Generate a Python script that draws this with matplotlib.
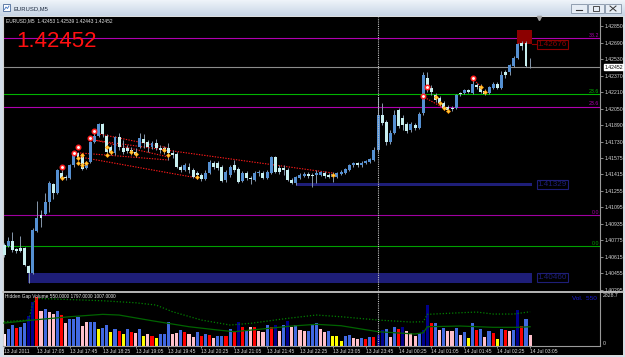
import numpy as np
import matplotlib.pyplot as plt
from matplotlib.patches import Rectangle
from matplotlib.colors import LinearSegmentedColormap

plt.rcParams['font.family'] = ['Liberation Sans', 'DejaVu Sans']

# EURUSD M5 bars, 13 Jul 2011 16:25 -> 14 Jul 2011 03:05
opens = [
    1.4073, 1.4072, 1.4077, 1.4069, 1.4070, 1.4070, 1.4053, 1.4046, 1.4087, 1.4102,
    1.4103, 1.4115, 1.4132, 1.4123, 1.4143, 1.4139, 1.4138, 1.4150, 1.4162, 1.4161,
    1.4148, 1.4153, 1.4173, 1.4179, 1.4190, 1.4179, 1.4168, 1.4162, 1.4178, 1.4167,
    1.4167, 1.4165, 1.4163, 1.4168, 1.4176, 1.4173, 1.4168, 1.4172, 1.4167, 1.4167,
    1.4167, 1.4162, 1.4161, 1.4149, 1.4146, 1.4149, 1.4146, 1.4143, 1.4141, 1.4137,
    1.4143, 1.4152, 1.4152, 1.4149, 1.4136, 1.4141, 1.4150, 1.4147, 1.4135, 1.4143,
    1.4138, 1.4136, 1.4143, 1.4143, 1.4138, 1.4143, 1.4158, 1.4148, 1.4148, 1.4146,
    1.4136, 1.4133, 1.4138, 1.4140, 1.4142, 1.4141, 1.4141, 1.4141, 1.4143, 1.4141,
    1.4139, 1.4139, 1.4142, 1.4143, 1.4146, 1.4150, 1.4152, 1.4150, 1.4152, 1.4153,
    1.4155, 1.4165, 1.4199, 1.4192, 1.4173, 1.4181, 1.4204, 1.4196, 1.4190, 1.4184,
    1.4189, 1.4186, 1.4201, 1.4235, 1.4225, 1.4218, 1.4215, 1.4210, 1.4207, 1.4206,
    1.4206, 1.4220, 1.4220, 1.4223, 1.4220, 1.4228, 1.4227, 1.4222, 1.4220, 1.4225,
    1.4229, 1.4225, 1.4240, 1.4240, 1.4246, 1.4254, 1.4269, 1.4269, 1.42453]
highs = [
    1.4075, 1.4081, 1.4086, 1.4070, 1.4082, 1.4071, 1.4054, 1.4089, 1.4116, 1.4107,
    1.4123, 1.4135, 1.4133, 1.4147, 1.4146, 1.4141, 1.4151, 1.4163, 1.4163, 1.4162,
    1.4154, 1.4174, 1.4181, 1.4191, 1.4191, 1.4180, 1.4170, 1.4179, 1.4181, 1.4175,
    1.4170, 1.4168, 1.4167, 1.4181, 1.4180, 1.4175, 1.4174, 1.4176, 1.4170, 1.4169,
    1.4172, 1.4165, 1.4163, 1.4150, 1.4152, 1.4152, 1.4148, 1.4145, 1.4143, 1.4146,
    1.4155, 1.4154, 1.4154, 1.4150, 1.4146, 1.4150, 1.4155, 1.4149, 1.4145, 1.4145,
    1.4140, 1.4145, 1.4146, 1.4145, 1.4146, 1.4159, 1.4159, 1.4150, 1.4150, 1.4148,
    1.4138, 1.4140, 1.4143, 1.4144, 1.4144, 1.4143, 1.4146, 1.4145, 1.4145, 1.4143,
    1.4144, 1.4144, 1.4146, 1.4148, 1.4151, 1.4153, 1.4153, 1.4154, 1.4155, 1.4157,
    1.4168, 1.4216, 1.4210, 1.4194, 1.4184, 1.4204, 1.4206, 1.4199, 1.4192, 1.4192,
    1.4191, 1.4202, 1.4240, 1.4240, 1.4228, 1.4220, 1.4217, 1.4212, 1.4209, 1.4208,
    1.4219, 1.4221, 1.4224, 1.4224, 1.4233, 1.4230, 1.4229, 1.4224, 1.4227, 1.4231,
    1.4231, 1.4241, 1.4242, 1.4248, 1.4256, 1.4269, 1.4270, 1.4270, 1.42539]
lows = [
    1.4061, 1.4071, 1.4066, 1.4065, 1.4066, 1.4053, 1.4036, 1.4045, 1.4086, 1.4090,
    1.4102, 1.4105, 1.4118, 1.4122, 1.4136, 1.4136, 1.4137, 1.4149, 1.4155, 1.4146,
    1.4147, 1.4152, 1.4172, 1.4178, 1.4178, 1.4161, 1.4160, 1.4160, 1.4165, 1.4161,
    1.4162, 1.4160, 1.4158, 1.4167, 1.4167, 1.4163, 1.4166, 1.4165, 1.4162, 1.4161,
    1.4155, 1.4157, 1.4148, 1.4144, 1.4145, 1.4143, 1.4138, 1.4137, 1.4135, 1.4136,
    1.4142, 1.4147, 1.4146, 1.4134, 1.4134, 1.4139, 1.4144, 1.4133, 1.4134, 1.4136,
    1.4132, 1.4135, 1.4140, 1.4137, 1.4137, 1.4142, 1.4143, 1.4142, 1.4141, 1.4135,
    1.4132, 1.4131, 1.4137, 1.4139, 1.4138, 1.4129, 1.4133, 1.4140, 1.4138, 1.4138,
    1.4134, 1.4138, 1.4141, 1.4142, 1.4145, 1.4149, 1.4149, 1.4149, 1.4151, 1.4152,
    1.4154, 1.4163, 1.4189, 1.4170, 1.4171, 1.4180, 1.4186, 1.4184, 1.4181, 1.4182,
    1.4184, 1.4185, 1.4199, 1.4221, 1.4218, 1.4211, 1.4208, 1.4204, 1.4202, 1.4203,
    1.4205, 1.4217, 1.4219, 1.4220, 1.4219, 1.4224, 1.4220, 1.4218, 1.4219, 1.4224,
    1.4224, 1.4224, 1.4235, 1.4238, 1.4245, 1.4253, 1.4262, 1.4245, 1.42443]
closes = [
    1.4063, 1.4077, 1.4068, 1.4067, 1.4067, 1.4054, 1.4046, 1.4088, 1.4099, 1.4099,
    1.4115, 1.4133, 1.4123, 1.4146, 1.4138, 1.4138, 1.4150, 1.4162, 1.4157, 1.4147,
    1.4152, 1.4173, 1.4179, 1.4190, 1.4180, 1.4163, 1.4162, 1.4178, 1.4168, 1.4163,
    1.4164, 1.4162, 1.4160, 1.4177, 1.4172, 1.4168, 1.4172, 1.4167, 1.4165, 1.4163,
    1.4162, 1.4160, 1.4149, 1.4146, 1.4150, 1.4146, 1.4139, 1.4141, 1.4137, 1.4143,
    1.4153, 1.4149, 1.4148, 1.4135, 1.4144, 1.4149, 1.4146, 1.4134, 1.4143, 1.4138,
    1.4137, 1.4143, 1.4144, 1.4138, 1.4144, 1.4158, 1.4144, 1.4144, 1.4146, 1.4136,
    1.4133, 1.4139, 1.4141, 1.4142, 1.4140, 1.4140, 1.4143, 1.4144, 1.4140, 1.4139,
    1.4142, 1.4143, 1.4144, 1.4147, 1.4150, 1.4152, 1.4150, 1.4152, 1.4154, 1.4156,
    1.4165, 1.4199, 1.4191, 1.4173, 1.4181, 1.4199, 1.4188, 1.4189, 1.4183, 1.4190,
    1.4186, 1.4200, 1.4238, 1.4223, 1.4221, 1.4213, 1.4210, 1.4206, 1.4204, 1.4205,
    1.4218, 1.4219, 1.4223, 1.4221, 1.4229, 1.4226, 1.4221, 1.4219, 1.4226, 1.4229,
    1.4225, 1.4238, 1.4238, 1.4247, 1.4254, 1.4268, 1.4266, 1.4246, 1.42452]

# Hidden Gap Volume
volumes = [
    615, 879, 1072, 949, 1001, 1177, 1581, 2320, 2550, 1845,
    1968, 1792, 1652, 1845, 1616, 1212, 1406, 1406, 1529, 1054,
    1265, 1247, 1247, 896, 949, 1072, 703, 879, 773, 615,
    861, 720, 668, 896, 510, 615, 527, 422, 597, 615,
    1230, 615, 650, 826, 720, 615, 474, 720, 510, 615,
    545, 422, 510, 527, 527, 879, 773, 1265, 1001, 843,
    1001, 984, 773, 720, 1107, 1001, 1089, 773, 1072, 1318,
    1001, 1107, 826, 791, 791, 1142, 1212, 879, 703, 773,
    510, 510, 246, 510, 562, 387, 334, 387, 351, 439,
    439, 562, 808, 861, 439, 984, 879, 1001, 756, 668,
    510, 668, 826, 2179, 1177, 1195, 826, 949, 773, 773,
    949, 562, 703, 422, 1195, 843, 896, 439, 773, 668,
    334, 879, 843, 791, 826, 1915, 1037, 1406, 550]
# b royal blue, n navy, r red, p pink, y yellow, w pale pink
vol_kind = ("wbbrbbnnrp" "bppbrpbbbp" "pbbybbybry" "brpbyprybb"
            "bppbrppbrb" "rpbbrbrnrb" "prppbrnpbn" "pbppbbbppb"
            "yyybbppbrb" "rnnbpbrnpp" "pbnnrbpbpp" "bpbybrbpbr"
            "ybrpbnrbp")
vol_colors = {'b': '#4169e1', 'n': '#00008b', 'r': '#ff0000',
              'p': '#ffc0cb', 'y': '#ffff00', 'w': '#ffe8ee'}

slow_idx = [0, 6, 7, 8, 24, 32, 37, 41, 48, 55, 60, 69, 76, 82, 91, 99,
            102, 103, 111, 115, 119, 124, 128]
slow_vals = [1270, 1360, 2240, 2503, 2377, 2271, 2150, 1797, 1360, 1096, 1186,
             1449, 1623, 1534, 1360, 1254, 1270, 1660, 1744, 1781, 1676, 1676, 1797]
fast_idx = [0, 7, 16, 24, 28, 36, 45, 52, 56, 62, 70, 76, 82, 91, 100, 102,
            103, 111, 119, 125, 128]
fast_vals = [1200, 1360, 1534, 1660, 1623, 1323, 1007, 833, 743, 870, 1043,
             1133, 1059, 743, 622, 690, 1007, 1043, 975, 975, 1007]

price_ticks = [1.42850, 1.42690, 1.42530, 1.42370, 1.42210, 1.42050, 1.41890,
               1.41730, 1.41575, 1.41415, 1.41255, 1.41095, 1.40935, 1.40775,
               1.40615, 1.40455, 1.40295]
date_idx = list(range(0, 129, 8))
date_labels = ['13 Jul 2011', '13 Jul 17:05', '13 Jul 17:45', '13 Jul 18:25',
               '13 Jul 19:05', '13 Jul 19:45', '13 Jul 20:25', '13 Jul 21:05',
               '13 Jul 21:45', '13 Jul 22:25', '13 Jul 23:05', '13 Jul 23:45',
               '14 Jul 00:25', '14 Jul 01:05', '14 Jul 01:45', '14 Jul 02:25',
               '14 Jul 03:05']

# fibonacci levels
fib_prices = [1.42731, 1.42187, 1.42069, 1.41020, 1.40717]
fib_texts = ['38.2', '23.6', '23.6', '0.0', '0.0']
fib_colors = ['#b000b0', '#00b400', '#b000b0', '#a000a0', '#00a000']

# zones (start bar, end bar, low, high)
zone_start = [5.8, 71.0, 124.9]
zone_end = [128.4, 128.4, 128.4]
zone_low = [1.40362, 1.41304, 1.42676]
zone_high = [1.40460, 1.41329, 1.42810]
zone_text = ['1.40460', '1.41329', '1.42676']
zone_colors = ['#1e1e78', '#1e1e78', '#8c0000']
zone_text_y = [1.40411, 1.41316, 1.42668]

# red dotted trend lines: (bar0, price0, bar1, price1)
trend_lines = [(22, 1.41814, 40, 1.41669), (22, 1.41746, 40, 1.41582),
               (18.5, 1.41621, 40, 1.41553), (18.5, 1.41582, 47, 1.41379),
               (21.7, 1.41746, 80, 1.41427), (101.7, 1.42172, 107, 1.42056),
               (114, 1.42347, 116, 1.42260)]
dot_idx = [14, 17, 18, 21, 22, 102, 103, 114]
dot_price = [1.41485, 1.41620, 1.41680, 1.41766, 1.41834, 1.42172, 1.42260, 1.42347]
mark_idx = [14, 18, 18, 19, 19, 20, 25, 25, 26, 31, 32, 39, 40, 47, 80,
            105, 106, 107, 108, 116, 117]
mark_price = [1.4138, 1.4157, 1.4152, 1.4160, 1.4150, 1.4152, 1.4168, 1.4160,
              1.4163, 1.4163, 1.4161, 1.4165, 1.4160, 1.4139, 1.4141,
              1.4216, 1.4210, 1.4206, 1.4203, 1.4226, 1.4221]

last_price = 1.42452
info = 'EURUSD,M5  1.42453 1.42539 1.42443 1.42452'

fig = plt.figure(figsize=(6.25, 3.57), dpi=100, facecolor='#d3deea')

# window chrome
bg = fig.add_axes([0, 0, 1, 1])
bg.set_zorder(-1)
cm = LinearSegmentedColormap.from_list('tb', ['#eef3f9', '#c8d6e6'])
bg.imshow(np.linspace(0, 1, 16).reshape(-1, 1), extent=[0, 625, 16, 0],
          cmap=cm, aspect='auto')
bg.add_patch(Rectangle((3, 16), 620, 339, fc='black', ec='#f2f2f2', lw=0.6))
bg.add_patch(Rectangle((3, 4), 7, 7, fc='white', ec='#4a6a9a', lw=0.6))
bg.plot([4.5, 6, 7.5, 9], [9.5, 7, 8.5, 6], color='#3a6fc0', lw=0.6)
bg.text(13, 8.5, 'EURUSD,M5', fontsize=4.2, color='#1e2b40', va='center')
for k, bx in enumerate([571, 588, 605]):
    bg.add_patch(Rectangle((bx, 4), 16, 9, fc='#e6edf5', ec='#8493a6', lw=0.6))
    if k == 0:
        bg.plot([bx + 5, bx + 11], [10, 10], color='#333333', lw=0.8)
    elif k == 1:
        bg.add_patch(Rectangle((bx + 5, 6), 6, 5, fill=False, ec='#333333', lw=0.6))
    else:
        bg.plot([bx + 5, bx + 11], [6, 11], color='#333333', lw=0.7)
        bg.plot([bx + 5, bx + 11], [11, 6], color='#333333', lw=0.7)
bg.set_xlim(0, 625)
bg.set_ylim(357, 0)
bg.axis('off')

n = len(closes)
idx = np.arange(n)
o = np.array(opens)
h = np.array(highs)
l = np.array(lows)
c = np.array(closes)
up = c >= o

# price panel
ax = fig.add_axes([3 / 625, 1 - 291 / 357, 597 / 625, 274 / 357], facecolor='black')
ax.set_xlim(-0.25, 145.0)
ax.set_ylim(1.40285, 1.42937)

for p, t, col in zip(fib_prices, fib_texts, fib_colors):
    ax.axhline(p, color=col, lw=0.8, zorder=1)
    ax.text(0.998, p + 0.00003, t, transform=ax.get_yaxis_transform(),
            ha='right', va='bottom', fontsize=3.8, color=col)
ax.axhline(last_price, color='#8c8c8c', lw=0.8, zorder=1)

for x0, x1, lo, hi, col, txt, ty in zip(zone_start, zone_end, zone_low, zone_high,
                                         zone_colors, zone_text, zone_text_y):
    ax.add_patch(Rectangle((x0, lo), x1 - x0, hi - lo, fc=col, ec='none', zorder=2))
    ax.text(129.8, ty, txt, fontsize=5.9, color=col, va='center', ha='left', zorder=6,
            bbox=dict(boxstyle='square,pad=0.12', fc='black', ec=col, lw=0.8))
ax.plot([128.4, 129.7], [zone_low[2], zone_low[2]], color=zone_colors[2], lw=0.8)

for x0, y0, x1, y1 in trend_lines:
    ax.plot([x0, x1], [y0, y1], color='#ff1a1a', lw=0.8, ls=(0, (1.2, 1.2)), zorder=3)

ax.vlines(idx, l, h, color='#8798ac', lw=0.7, zorder=3)
body_lo = np.minimum(o, c)
body_h = np.maximum(np.abs(c - o), 0.00003)
ax.bar(idx, body_h, bottom=body_lo, width=0.72,
       color=np.where(up, '#5590d2', '#c8f0f0'), linewidth=0, zorder=4)

ax.plot(mark_idx, mark_price, 'D', ms=2.0, mfc='#ffd040', mec='#ff9000', mew=0.5, zorder=5)
ax.plot(dot_idx, dot_price, 'o', ms=3.2, mfc='white', mec='#ff2020', mew=1.1, zorder=5)

ax.axvline(91, color='#c0c0c0', lw=0.8, ls=(0, (1, 1)), zorder=5)
ax.plot(n + 1.2, 1.42926, 'v', ms=3, color='#a0a0a0', clip_on=False)

ax.text(0.0218, 0.912, '1.42452', transform=ax.transAxes, fontsize=16,
        color='#ff1010', va='center', ha='left')
ax.text(0.005, 0.985, info, transform=ax.transAxes, fontsize=3.5,
        color='#e6e6e6', va='center', ha='left')

ax.yaxis.tick_right()
ax.set_yticks(price_ticks)
ax.set_yticklabels(['%.5f' % p for p in price_ticks])
ax.tick_params(axis='y', length=2, width=0.6, color='#a0a0a0', labelsize=3.7,
               labelcolor='#d8d8d8', pad=1)
ax.set_xticks([])
ax.annotate('%.5f' % last_price, xy=(1.0, last_price),
            xycoords=('axes fraction', 'data'), xytext=(3, 0),
            textcoords='offset points', fontsize=3.7, color='black', va='center',
            bbox=dict(boxstyle='square,pad=0.1', fc='white', ec='white'))
for s in ['top', 'bottom']:
    ax.spines[s].set_visible(False)
ax.spines['right'].set_color('#9a9a9a')
ax.spines['left'].set_color('#d0d0d0')
ax.spines['right'].set_linewidth(0.8)
ax.spines['left'].set_linewidth(0.8)

# volume panel
axv = fig.add_axes([3 / 625, 1 - 345.8 / 357, 597 / 625, 53.6 / 357], facecolor='black')
axv.set_xlim(-0.25, 145.0)
axv.set_ylim(0, 2828.7)
axv.bar(idx, volumes, width=0.75, color=[vol_colors[k] for k in vol_kind],
        linewidth=0, zorder=2)
axv.plot(slow_idx, slow_vals, color='#008000', lw=0.9, ls=(0, (1, 1.5)), zorder=3)
axv.plot(fast_idx, fast_vals, color='#006400', lw=0.9, zorder=3)
axv.axvline(91, color='#c0c0c0', lw=0.8, ls=(0, (1, 1)), zorder=4)
axv.text(0.003, 0.92, 'Hidden Gap Volume 550.0000 1797.0000 1007.0000',
         transform=axv.transAxes, fontsize=3.4, color='#e6e6e6', va='center')
axv.text(0.995, 0.88, 'Vol.  550', transform=axv.transAxes, fontsize=4.6,
         color='#1a1ad0', va='center', ha='right')
axv.text(1.004, 0.93, '2828.7', transform=axv.transAxes, fontsize=3.7,
         color='#d8d8d8', va='center', ha='left')
axv.text(1.004, 0.05, '0', transform=axv.transAxes, fontsize=3.7,
         color='#d8d8d8', va='center', ha='left')
axv.set_yticks([])
axv.set_xticks(date_idx)
axv.set_xticklabels(date_labels, ha='left')
axv.tick_params(axis='x', length=1.5, width=0.6, color='#a0a0a0', labelsize=3.6,
                labelcolor='#d8d8d8', pad=0.8)
axv.spines['top'].set_visible(False)
for s in ['right', 'bottom']:
    axv.spines[s].set_color('#9a9a9a')
    axv.spines[s].set_linewidth(0.8)
axv.spines['left'].set_color('#d0d0d0')
axv.spines['left'].set_linewidth(0.8)

# separator between panels
fig.add_artist(plt.Line2D([3 / 625, 623 / 625], [1 - 291.8 / 357] * 2,
                          color='#c4c4c4', lw=1.3))

fig.savefig('out.png', dpi=100, facecolor=fig.get_facecolor())
